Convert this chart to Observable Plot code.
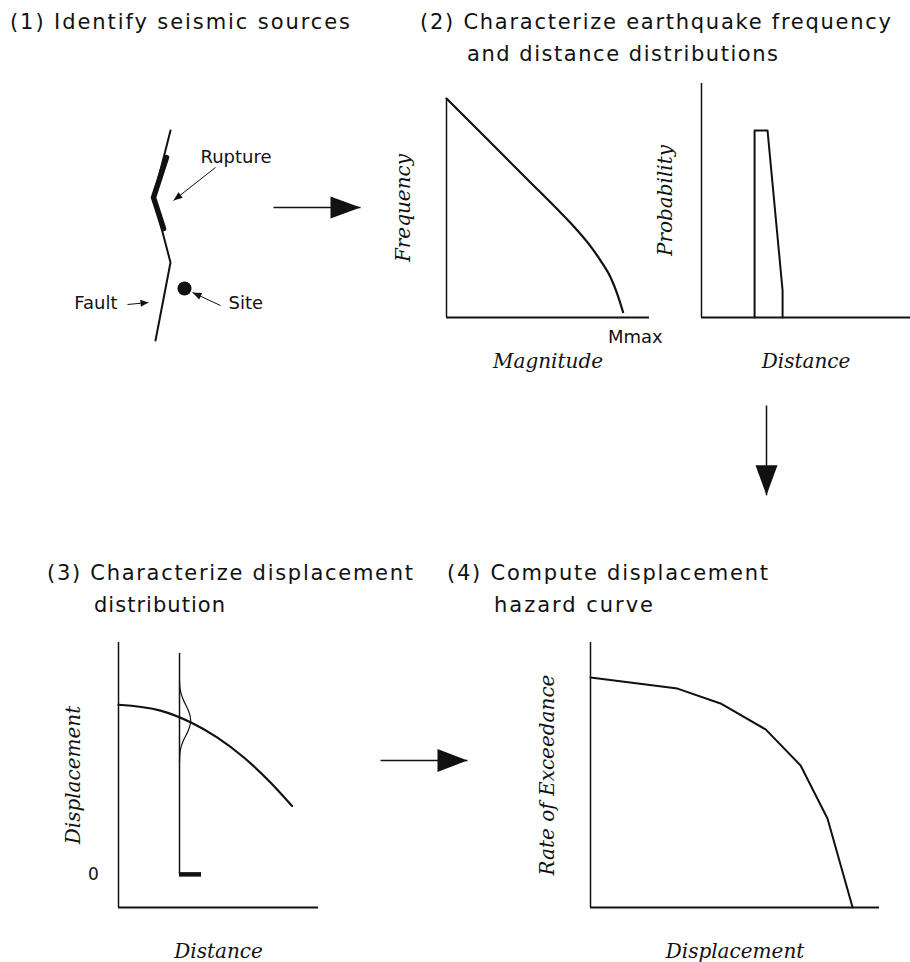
<!DOCTYPE html>
<html>
<head>
<meta charset="utf-8">
<script src="https://cdn.jsdelivr.net/npm/d3@7"></script>
<script src="https://cdn.jsdelivr.net/npm/@observablehq/plot@0.6"></script>
<style>
  html, body { margin: 0; padding: 0; background: #fff; overflow: hidden; }
  #page { position: relative; width: 910px; height: 962px; overflow: hidden; background: #fff; }
  #page svg { overflow: visible; }
  .title { position: absolute; font-family: "DejaVu Sans", sans-serif; font-size: 21px; line-height: 32px; color: #111; white-space: pre; }
  .title span { display: block; white-space: pre; }
</style>
</head>
<body>
<div id="page"></div>
<script>
// ---------------- DATA ----------------
// Panel titles (line 1, line 2)
const titles = [
  ["(1) Identify seismic sources"],
  ["(2) Characterize earthquake frequency", "and distance distributions"],
  ["(3) Characterize displacement", "distribution"],
  ["(4) Compute displacement", "hazard curve"]
];

// Panel 1: fault sketch (map units)
const faultX = [11.0, 9.3, 11.0, 9.5];
const faultY = [22.0, 15.3, 8.8, 1.0];
const ruptureX = [10.6, 9.3, 10.3];
const ruptureY = [19.3, 15.3, 12.2];
const siteXY = [12.4, 6.2];
const sketchLabels = ["Rupture", "Site", "Fault"];

// Panel 2a: magnitude-frequency relation (relative units)
const magnitude = [0, 20, 40, 54.5, 62.7, 70.9, 75.9, 80.8, 84.1, 87.0];
const frequency = [100, 81.5, 62.9, 49.5, 41.6, 32.6, 26.0, 18.4, 10.8, 2.4];
const mmaxLabel = "Mmax";
const mmaxAt = 93;

// Panel 2b: distance probability (relative units)
const distance = [25.4, 25.4, 31.6, 38.8, 38.8];
const probability = [0, 79.9, 79.9, 11.5, 0];

// Panel 3: displacement attenuation with distance
const dist3 = [0, 21, 36, 49.3, 62.7, 76, 86.8];
const disp3 = [64.0, 61.8, 57.4, 51.7, 44.1, 34.7, 25.8];
const siteDistance = 30.5;
const distTop = 83.4;
const barEnd = 41.5;
const bumpDisp = [73.0, 69.4, 65.7, 61.9, 58.1, 54.3, 50.6, 46.8, 42.5];
const bumpDensity = [0, 0.4, 2.0, 4.4, 5.6, 4.4, 2.0, 0.4, 0];
const zeroTick = [0];

// Panel 4: displacement hazard curve
const dispHaz = [0, 30.1, 45, 60.6, 72.7, 82, 90.7];
const rateHaz = [86.8, 82.6, 77, 67.2, 53.6, 33.6, 0];

// Axis labels
const axisLabels = {
  freqY: "Frequency", freqX: "Magnitude",
  probY: "Probability", probX: "Distance",
  dispY: "Displacement", dispX: "Distance",
  hazY: "Rate of Exceedance", hazX: "Displacement"
};

// Flow arrows (in the units of the panel they sit in)
const arrow12 = [{x1: 21.3, y1: 14.3, x2: 30, y2: 14.3}];
const arrow23 = [{x1: 31.1, y1: -37.6, x2: 31.1, y2: -76}];
const arrow34 = [{x1: 131, y1: 43, x2: 174.5, y2: 43}];
const ruptureArrow = [{x1: 15.5, y1: 18.3, x2: 11.3, y2: 15.0}];
const siteArrow = [{x1: 16, y1: 4.5, x2: 13.2, y2: 5.8}];
const faultArrow = [{x1: 6.7, y1: 4.6, x2: 8.8, y2: 4.8}];

// ---------------- RENDER ----------------
const page = document.getElementById("page");
const SANS = "DejaVu Sans";
const SERIF = "DejaVu Serif";

// Titles
const titleLayout = [
  {left: 10, top: 6, widths: [340]},
  {left: 420, top: 6, widths: [471, 311]},
  {left: 47, top: 557, widths: [366, 131]},
  {left: 447, top: 557, widths: [321, 159]}
];
titles.forEach((lines, i) => {
  const L = titleLayout[i];
  const div = document.createElement("div");
  div.className = "title";
  div.style.left = L.left + "px";
  div.style.top = L.top + "px";
  page.append(div);
  lines.forEach((t, j) => {
    const s = document.createElement("span");
    if (j > 0) s.style.paddingLeft = "47px";
    const inner = document.createElement("span");
    inner.style.display = "inline";
    inner.textContent = t;
    s.append(inner);
    div.append(s);
    const w = inner.getBoundingClientRect().width;
    const ls = (L.widths[j] - w) / (t.length - 1);
    inner.style.letterSpacing = ls.toFixed(2) + "px";
  });
});

function headSymbol(angle, L, W) {
  const c = Math.cos(angle), s = Math.sin(angle);
  return {
    draw(ctx) {
      const bx = -L * c, by = -L * s;
      ctx.moveTo(0, 0);
      ctx.lineTo(bx - W * s, by + W * c);
      ctx.lineTo(bx + W * s, by - W * c);
      ctx.closePath();
    }
  };
}
function arrowMarks(list, kx, ky, L, W, sw) {
  return [
    Plot.link(list, {x1: "x1", y1: "y1", x2: "x2", y2: "y2", stroke: "#111", strokeWidth: sw}),
    ...list.map(a => Plot.dot([a], {
      x: "x2", y: "y2", fill: "#111", stroke: "none",
      symbol: headSymbol(Math.atan2(-(a.y2 - a.y1) * ky, (a.x2 - a.x1) * kx), L, W)
    }))
  ];
}

const M = 70;
function panel(frame, xd, yd, marks) {
  const [l, t, r, b] = frame;
  const svg = Plot.plot({
    width: r - l + 2 * M, height: b - t + 2 * M,
    marginLeft: M, marginRight: M, marginTop: M, marginBottom: M,
    x: {domain: xd, axis: null},
    y: {domain: yd, axis: null},
    style: {background: "transparent", overflow: "visible"},
    marks
  });
  svg.style.position = "absolute";
  svg.style.left = (l - M) + "px";
  svg.style.top = (t - M) + "px";
  page.append(svg);
}
const zip = (xs, ys) => xs.map((x, i) => ({x, y: ys[i]}));
const axisText = (txt, opts) => Plot.text([txt], {text: d => d, fontFamily: SERIF, fontStyle: "italic", fontSize: 20, fill: "#111", textAnchor: "middle", lineAnchor: "middle", ...opts});
const yLabel = (txt, dx) => axisText(txt, {frameAnchor: "left", rotate: -90, dx});
const xLabel = (txt) => axisText(txt, {frameAnchor: "bottom", dy: 44});

// Panel 1 (sketch): frame 60..360 x, 120..350 y, 10 px / unit
{
  const kx = 10, ky = 10;
  const lab = (t, x, y, anchor) => Plot.text([t], {x, y, text: d => d, textAnchor: anchor, fontFamily: SANS, fontSize: 18, fill: "#111"});
  panel([60, 120, 360, 350], [0, 30], [0, 23], [
    Plot.line(zip(faultX, faultY), {x: "x", y: "y", stroke: "#111", strokeWidth: 2}),
    Plot.line(zip(ruptureX, ruptureY), {x: "x", y: "y", stroke: "#111", strokeWidth: 5.5}),
    Plot.dot([siteXY], {x: d => d[0], y: d => d[1], r: 7, fill: "#111", stroke: "none"}),
    lab(sketchLabels[0], 14.0, 19.3, "start"),
    lab(sketchLabels[1], 16.8, 4.7, "start"),
    lab(sketchLabels[2], 5.7, 4.7, "end"),
    ...arrowMarks(ruptureArrow, kx, ky, 9, 3.5, 1),
    ...arrowMarks(siteArrow, kx, ky, 9, 3.5, 1),
    ...arrowMarks(faultArrow, kx, ky, 8, 3.5, 1),
    ...arrowMarks(arrow12, kx, ky, 30, 11, 1.5)
  ]);
}

// Panel 2a: frequency vs magnitude, frame 446..649 x, 98..317 y
panel([446, 98, 649, 317], [0, 100], [0, 100], [
  Plot.ruleX([0], {stroke: "#111", strokeWidth: 1.5}),
  Plot.ruleY([0], {stroke: "#111", strokeWidth: 2}),
  Plot.line(zip(magnitude, frequency), {x: "x", y: "y", stroke: "#111", strokeWidth: 2.2, curve: "monotone-x"}),
  Plot.text([mmaxLabel], {x: mmaxAt, y: 0, dy: 20, text: d => d, fontFamily: SANS, fontSize: 18, fill: "#111"}),
  yLabel(axisLabels.freqY, -43),
  xLabel(axisLabels.freqX)
]);

// Panel 2b: probability vs distance, frame 701..910 x, 83..317 y
panel([701, 83, 910, 317], [0, 100], [0, 100], [
  Plot.ruleX([0], {stroke: "#111", strokeWidth: 1.5}),
  Plot.ruleY([0], {stroke: "#111", strokeWidth: 2}),
  Plot.line(zip(distance, probability), {x: "x", y: "y", stroke: "#111", strokeWidth: 2}),
  yLabel(axisLabels.probY, -36),
  xLabel(axisLabels.probX),
  ...arrowMarks(arrow23, 209 / 100, 234 / 100, 30, 11, 1.5)
]);

// Panel 3: displacement vs distance, frame 118..318 x, 642..907 y
{
  const yd = [-12.5, 87.5];
  panel([118, 642, 318, 907], [0, 100], yd, [
    Plot.ruleX([0], {stroke: "#111", strokeWidth: 1.5}),
    Plot.ruleY([yd[0]], {stroke: "#111", strokeWidth: 2}),
    Plot.line(zip(dist3, disp3), {x: "x", y: "y", stroke: "#111", strokeWidth: 2.2, curve: "monotone-x"}),
    Plot.ruleX([siteDistance], {y1: 0, y2: distTop, stroke: "#111", strokeWidth: 1.5}),
    Plot.ruleY([0], {x1: siteDistance, x2: barEnd, stroke: "#111", strokeWidth: 4.5}),
    Plot.line(zip(bumpDensity, bumpDisp), {x: d => siteDistance + d.x, y: "y", stroke: "#111", strokeWidth: 1.2, curve: "natural"}),
    Plot.text(zeroTick, {y: d => d, text: d => String(d), frameAnchor: "left", textAnchor: "middle", dx: -25, fontFamily: SANS, fontSize: 17, fill: "#111"}),
    yLabel(axisLabels.dispY, -45),
    xLabel(axisLabels.dispX),
    ...arrowMarks(arrow34, 2, 265 / 100, 30, 11.5, 1.5)
  ]);
}

// Panel 4: hazard curve, frame 590..879 x, 642..907 y
panel([590, 642, 879, 907], [0, 100], [0, 100], [
  Plot.ruleX([0], {stroke: "#111", strokeWidth: 1.5}),
  Plot.ruleY([0], {stroke: "#111", strokeWidth: 2}),
  Plot.line(zip(dispHaz, rateHaz), {x: "x", y: "y", stroke: "#111", strokeWidth: 2}),
  yLabel(axisLabels.hazY, -43),
  xLabel(axisLabels.hazX)
]);
</script>
</body>
</html>
